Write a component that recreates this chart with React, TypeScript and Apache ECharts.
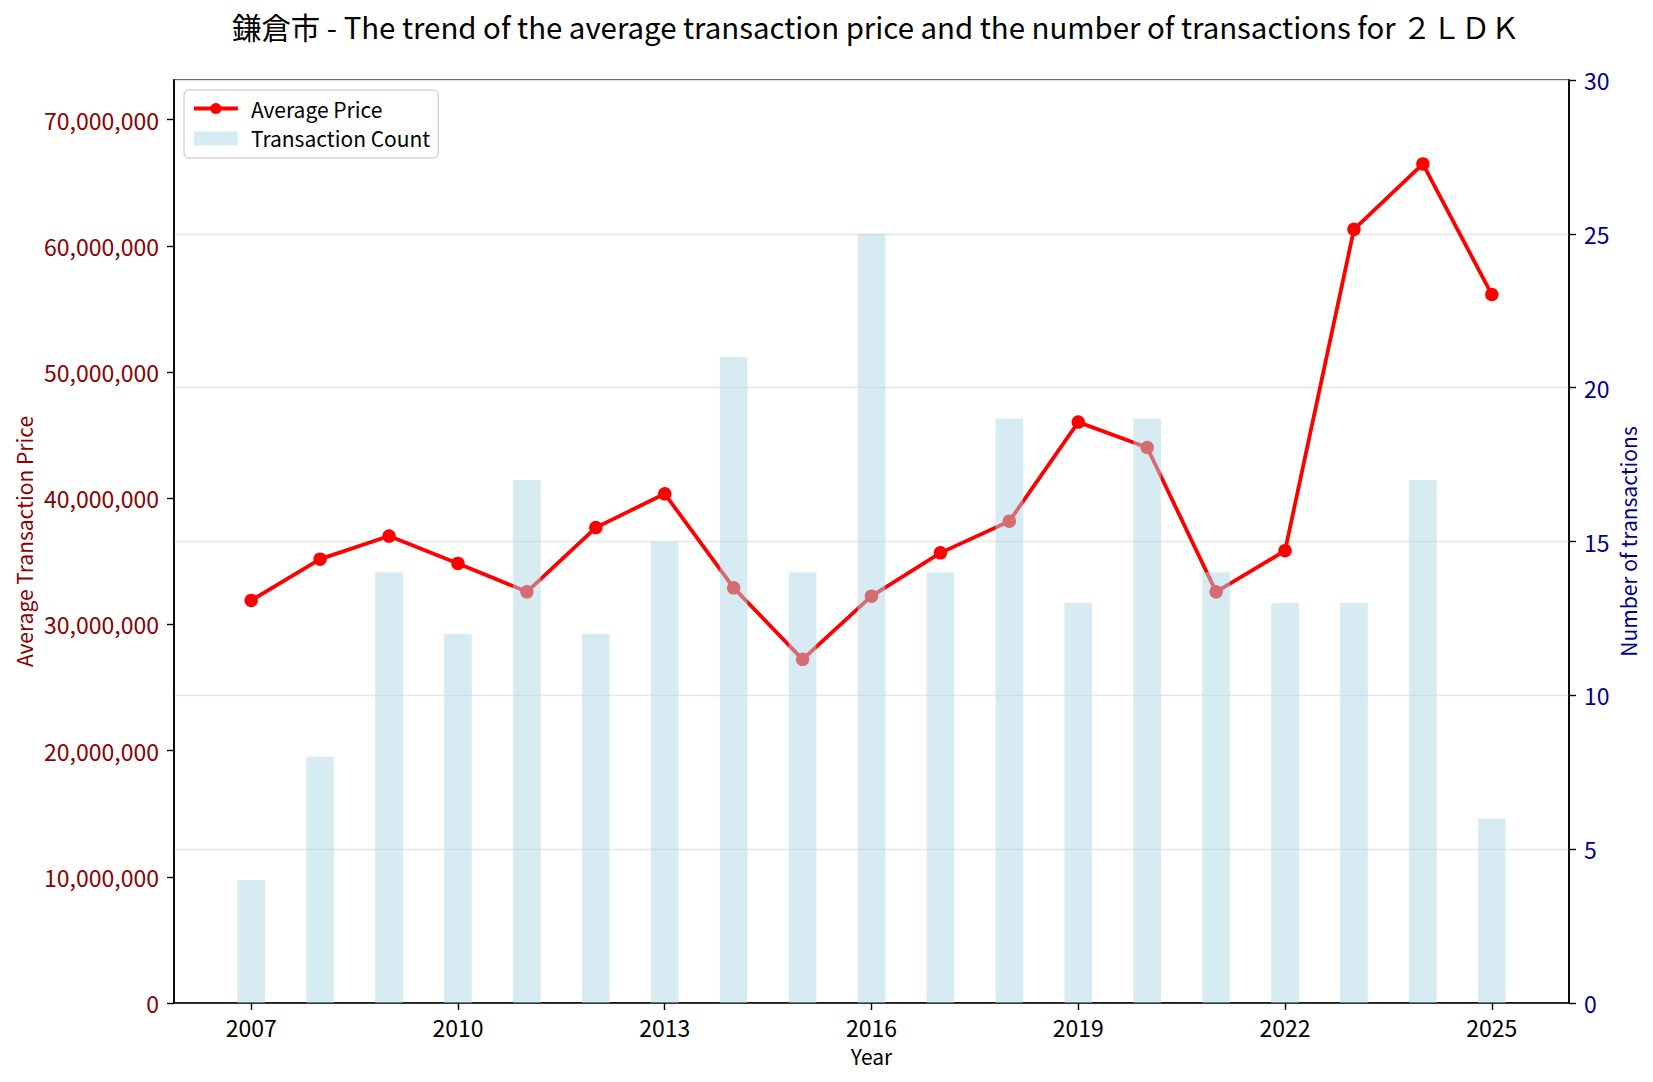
import React, { useEffect, useRef } from "react";
import * as echarts from "echarts";

// Yearly figures for 2LDK transactions in Kamakura
const years = [2007, 2008, 2009, 2010, 2011, 2012, 2013, 2014, 2015, 2016, 2017, 2018, 2019, 2020, 2021, 2022, 2023, 2024, 2025];
const avgPrice = [
  31900000, 35170000, 37000000, 34830000, 32580000, 37670000, 40350000, 32900000, 27230000, 32240000,
  35670000, 38180000, 46030000, 44020000, 32580000, 35840000, 61310000, 66490000, 56140000,
];
const txCount = [4, 8, 14, 12, 17, 12, 15, 21, 14, 25, 14, 19, 13, 19, 14, 13, 13, 17, 6];

const yearTicks = [2007, 2010, 2013, 2016, 2019, 2022, 2025];
const priceTicks = [0, 10000000, 20000000, 30000000, 40000000, 50000000, 60000000, 70000000];

const FONT = '"Noto Sans CJK JP", "Noto Sans", sans-serif';
const PRICE_COLOR = "#8b0000";
const COUNT_COLOR = "#00008b";

export default function App() {
  const ref = useRef<HTMLDivElement>(null);

  useEffect(() => {
    if (!ref.current) return;
    const chart = echarts.init(ref.current, undefined, { renderer: "svg" });
    const priceMax = Math.max(...avgPrice) * 1.1;
    const yearMin = 2007 - 0.2 - 0.05 * 18.4;
    const yearMax = 2025 + 0.2 + 0.05 * 18.4;

    chart.setOption({
      animation: false,
      backgroundColor: "#ffffff",
      textStyle: { fontFamily: FONT },
      title: {
        text: "鎌倉市 - The trend of the average transaction price and the number of transactions for ２ＬＤＫ",
        left: 871,
        textAlign: "center",
        top: 6,
        textStyle: { fontFamily: FONT, fontSize: 29.4, fontWeight: "normal", color: "#000" },
      },
      grid: {
        left: 174,
        right: 84,
        top: 80,
        bottom: 79,
        show: true,
        borderColor: "#000",
        borderWidth: 1.6,
        backgroundColor: "transparent",
      },
      legend: {
        orient: "vertical",
        left: 184,
        top: 90,
        padding: [8, 8, 9, 8],
        itemGap: 9,
        itemWidth: 44,
        itemHeight: 14,
        borderColor: "#d4d4d4",
        borderWidth: 1.5,
        borderRadius: 5,
        backgroundColor: "rgba(255,255,255,0.8)",
        textStyle: { fontFamily: FONT, fontSize: 21, color: "#000", padding: [0, 0, 0, 8] },
        data: [
          { name: "Average Price", lineStyle: { width: 3.8, color: "#ff0000" } },
          { name: "Transaction Count", icon: "rect" },
        ],
      },
      xAxis: {
        type: "value",
        min: yearMin,
        max: yearMax,
        name: "Year",
        nameLocation: "middle",
        nameGap: 42,
        nameMoveOverlap: false,
        nameTextStyle: { fontFamily: FONT, fontSize: 21, lineHeight: 21, color: "#000" },
        axisLine: { show: true, lineStyle: { color: "#000", width: 1.6 } },
        axisTick: { show: true, length: 7, lineStyle: { color: "#000", width: 1.4 }, customValues: yearTicks },
        axisLabel: {
          customValues: yearTicks,
          margin: 12,
          fontFamily: FONT,
          fontSize: 23,
          lineHeight: 23,
          color: "#000",
          formatter: (v: number) => String(v),
        },
        splitLine: { show: false },
      },
      yAxis: [
        {
          type: "value",
          position: "left",
          min: 0,
          max: priceMax,
          name: "Average Transaction Price",
          nameLocation: "middle",
          nameRotate: 90,
          nameGap: 140,
          nameMoveOverlap: false,
          nameTextStyle: { fontFamily: FONT, fontSize: 21, color: PRICE_COLOR },
          axisLine: { show: true, lineStyle: { color: "#000", width: 1.6 } },
          axisTick: { show: true, length: 7, lineStyle: { color: "#000", width: 1.4 }, customValues: priceTicks },
          axisLabel: {
            customValues: priceTicks,
            margin: 15,
            fontFamily: FONT,
            fontSize: 23,
            color: PRICE_COLOR,
            formatter: (v: number) => Math.round(v).toLocaleString("en-US"),
          },
          splitLine: { show: false },
        },
        {
          type: "value",
          position: "right",
          min: 0,
          max: 30,
          interval: 5,
          name: "Number of transactions",
          nameLocation: "middle",
          nameRotate: 90,
          nameGap: 48,
          nameMoveOverlap: false,
          nameTextStyle: { fontFamily: FONT, fontSize: 21, lineHeight: 21, color: COUNT_COLOR },
          axisLine: { show: true, lineStyle: { color: "#000", width: 1.6 } },
          axisTick: { show: true, length: 7, lineStyle: { color: "#000", width: 1.4 } },
          axisLabel: { margin: 15, fontFamily: FONT, fontSize: 23, color: COUNT_COLOR },
          splitLine: { show: true, lineStyle: { color: "#e6e6e6", width: 1.4 } },
        },
      ],
      series: [
        {
          name: "Average Price",
          type: "line",
          yAxisIndex: 0,
          z: 2,
          data: years.map((y, i) => [y, avgPrice[i]]),
          symbol: "circle",
          symbolSize: 13.5,
          showSymbol: true,
          itemStyle: { color: "#ff0000" },
          lineStyle: { color: "#ff0000", width: 3.8 },
        },
        {
          name: "Transaction Count",
          type: "bar",
          yAxisIndex: 1,
          z: 3,
          barWidth: 27.6,
          data: years.map((y, i) => [y, txCount[i]]),
          itemStyle: { color: "rgba(173,216,230,0.5)" },
        },
      ],
    });

    return () => chart.dispose();
  }, []);

  return <div ref={ref} style={{ width: 1653, height: 1082, position: "absolute", left: 0, top: 0 }} />;
}
